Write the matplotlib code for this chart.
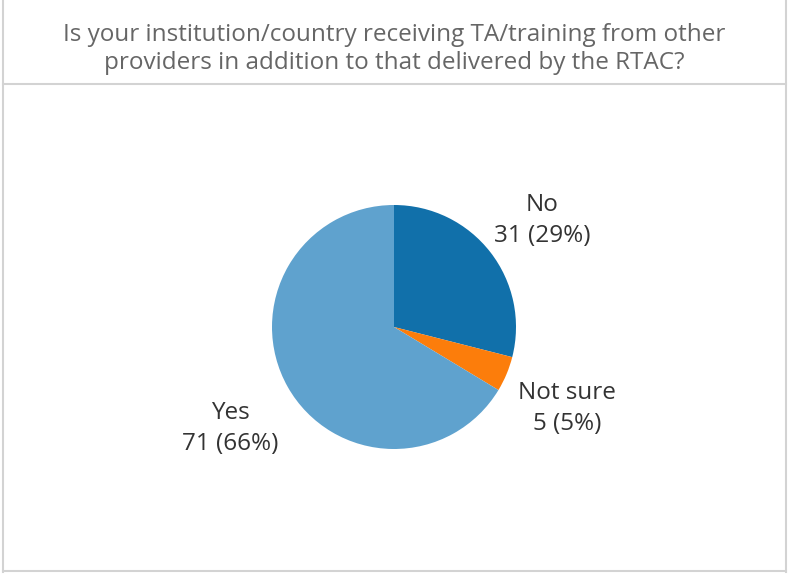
import matplotlib
matplotlib.use("Agg")
import matplotlib.pyplot as plt
import numpy as np

title_lines = ["Is your institution/country receiving TA/training from other",
               "providers in addition to that delivered by the RTAC?"]
categories = ["No", "Not sure", "Yes"]
counts = [31, 5, 71]
colors = ["#1170aa", "#fc7d0b", "#5fa2ce"]

W, H = 789, 574
fig = plt.figure(figsize=(W / 100, H / 100), dpi=100)
ax = fig.add_axes([0, 0, 1, 1])

font = "Open Sans"
cx, cy, r = 394, H - 327, 122
wedges, _ = ax.pie(counts, colors=colors, startangle=90, counterclock=False,
                   radius=r, center=(cx, cy), frame=True,
                   wedgeprops=dict(linewidth=0))
ax.set_xlim(0, W)
ax.set_ylim(0, H)
ax.axis("off")

total = sum(counts)
label_dist = 188
for w, cat, n in zip(wedges, categories, counts):
    mid = np.deg2rad((w.theta1 + w.theta2) / 2)
    x = cx + label_dist * np.cos(mid)
    y = cy + label_dist * np.sin(mid) - 9
    ax.text(x, y, f"{cat}\n{n} ({round(100 * n / total)}%)", ha="center", va="center",
            fontsize=17.5, color="#333333", family=font, linespacing=1.35)

ax.text(W / 2, H - 49, "\n".join(title_lines), ha="center", va="center",
        fontsize=17.5, color="#666666", family=font, linespacing=1.25)

lc = "#d3d3d3"
ax.plot([3, 3], [2, H], color=lc, lw=1.5)
ax.plot([W - 3, W - 3], [2, H], color=lc, lw=1.5)
ax.plot([3, W - 3], [3, 3], color=lc, lw=1.5)
ax.plot([3, W - 3], [H - 84, H - 84], color=lc, lw=1.5)

fig.savefig("out.png", dpi=100)
